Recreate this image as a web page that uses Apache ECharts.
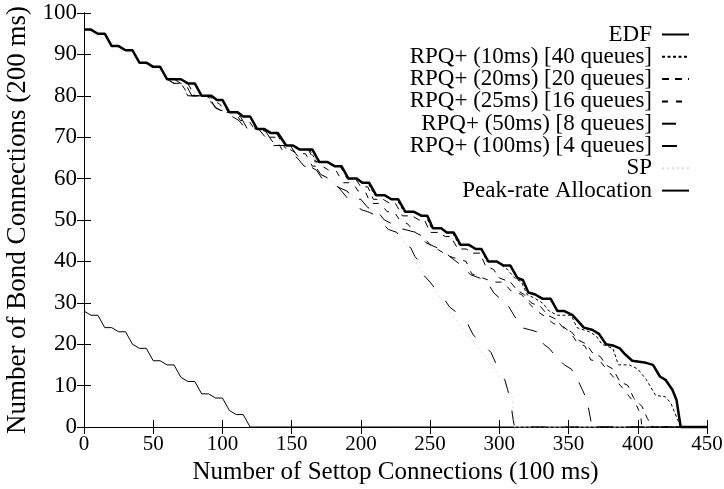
<!DOCTYPE html>
<html><head><meta charset="utf-8">
<script src="https://cdn.jsdelivr.net/npm/echarts@6/dist/echarts.min.js"></script>
<style>html,body{margin:0;padding:0;background:#fff}#c{width:724px;height:489px}</style>
</head><body><div id="c"></div>
<script>
const xTicks = [0,50,100,150,200,250,300,350,400,450];
const yTicks = [0,10,20,30,40,50,60,70,80,90,100];
const seriesNames = ['EDF','RPQ+ (10ms) [40 queues]','RPQ+ (20ms) [20 queues]','RPQ+ (25ms) [16 queues]','RPQ+ (50ms) [8 queues]','RPQ+ (100ms) [4 queues]','SP','Peak-rate Allocation'];

const edf = [[0,96],[5,96],[10,95],[15,95],[20,92],[25,92],[30,91],[35,91],[40,88],[45,88],[50,87],[55,87],[60,84],[70,84],[75,83],[80,83],[85,80],[92,80],[96,79],[100,79],[105,76],[111,76],[115,75],[120,75],[125,72],[130,72],[135,71],[140,71],[146,68],[151,68],[156,67],[165,67],[170,64],[176,64],[181,63],[186,63],[191,60],[197,60],[201,59],[206,59],[211,56],[217,56],[222,55],[227,55],[232,52],[238,52],[244,51],[248,51],[252,48],[258,48],[262,47],[267,47],[272,44],[278,44],[283,43],[287,43],[292,40],[298,40],[303,39],[308,39],[313,36],[317,35.5],[321,32.5],[326,32],[331,31],[337,31],[342,28],[347,28],[353,27],[357,25.5],[361,24],[367,23.5],[372,22.5],[377,20],[382,19.7],[387,19],[391,17.5],[396,16],[406,15.5],[411,15],[416,12.2],[420,11.4],[425,9],[428,6.5],[431,0],[450,0]];

const rpq10 = [[0,96],[5,96],[10,95],[15,95],[20,92],[25,92],[30,91],[35,91],[40,88],[45,88],[50,87],[55,87],[60,84],[70,84],[75,83],[80,83],[85,80],[92,80],[96,79],[100,79],[105,76],[111,76],[115,75],[120,75],[125,72],[130,72],[135,71],[140,71],[146,68],[151,68],[156,67],[163,67],[168,64],[176,64],[181,63],[186,63],[191,60],[197,60],[201,59],[205,59],[210,56],[217,56],[222,55],[226,55],[231,52],[238,52],[243,51],[247,51],[251,48],[258,48],[262,47],[266,47],[271,44],[278,44],[282,43],[287,43],[291,40],[298,40],[302,39],[306,38],[311,36],[316,35],[320,32],[326,31],[331,30],[336,28],[342,27],[352,27],[356,24],[365,23],[370,22],[374,20],[382,19],[386,15],[394,15],[400,14],[406,11.5],[413,7.6],[420,7.3],[424,5.7],[429,1.6],[431,0],[450,0]];

const rpq20 = [[0,96],[5,96],[10,95],[15,95],[20,92],[25,92],[30,91],[35,91],[40,88],[45,88],[50,87],[55,87],[60,84],[65,84],[70,83],[75,83],[80,80],[90,80],[94,79],[100,79],[104,76],[110,76],[114,75],[120,75],[124,72],[130,72],[134,71],[139,71],[144,68],[150,68],[155,67],[162,67],[167,64],[175,64],[180,63],[185,63],[190,60],[196,60],[200,58],[205,58],[209,55],[216,55],[221,54],[225,54],[230,51],[237,51],[242,50],[246,50],[250,47],[256,47],[261,46],[265,46],[270,43],[276,43],[281,42],[286,42],[290,39],[296,38],[300,36],[308,35],[313,33],[318,32],[323,30],[330,29],[335,27],[341,26],[346,24],[352,23],[357,21],[363,20],[367,18],[373,17],[377,15],[382,14],[387,11],[393,10],[397,7],[403,5],[407,2],[411,0],[450,0]];

const rpq25 = [[0,96],[5,96],[10,95],[15,95],[20,92],[25,92],[30,91],[35,91],[40,88],[45,88],[50,87],[55,87],[60,84],[65,83],[70,83],[76,80],[88,80],[93,79],[98,78],[103,76],[109,76],[113,74],[119,74],[123,72],[129,72],[133,70],[138,70],[143,67],[149,67],[154,66],[160,66],[165,63],[172,63],[177,62],[182,62],[187,59],[194,59],[198,57],[203,57],[207,54],[214,54],[219,52],[224,52],[228,50],[234,49],[239,47],[245,46],[250,44],[255,43],[260,42],[266,41],[271,40.5],[276,40],[280,37],[288,36],[296,35],[303,35],[308,33],[316,32],[321,30],[327,28],[333,26.7],[339,25],[345,24.5],[351,23],[356,20.5],[362,19.5],[366,16.2],[373,15.8],[379,13.4],[383,11.8],[389,9.4],[394,7.3],[399,5.3],[402,3],[403,0],[450,0]];

const rpq50 = [[0,96],[5,96],[10,95],[15,95],[20,92],[25,92],[30,91],[35,91],[40,88],[45,88],[50,87],[55,87],[60,84],[65,83],[70,83],[75,80],[86,80],[90,79],[96,77],[101,76],[107,75],[112,74],[117,72],[126,72],[131,70],[136,68],[144,68],[149,66],[154,65],[159,63],[167,63],[171,61],[177,60],[183,58],[190,57],[195,55],[200,55],[205,53],[212,52],[217,50],[223,49],[228,48],[234,47.5],[241,46.9],[247,44.5],[255,43.3],[260,42.5],[264,41.2],[272,39.2],[276,38],[279,36.8],[289,35.6],[293,34],[296,32.4],[303,30.3],[307,29],[310,27.3],[316,24],[322,23.5],[327,23],[332,20],[336,19],[340,17.4],[347,15],[352,14],[356,11.8],[360,9],[362,7.5],[364,5.3],[366,1.7],[367,0],[450,0]];

const rpq100 = [[0,96],[5,96],[10,95],[15,95],[20,92],[25,92],[30,91],[35,91],[40,88],[45,88],[50,87],[55,87],[60,84],[68,84],[73,83],[78,80],[90,80],[95,77],[103,76],[108,75],[113,75],[118,72],[130,72],[134,70],[138,68],[149,68],[153,66],[158,64],[163,63],[168,62],[172,60],[181,59],[186,57],[191,55],[195,55],[200,52.5],[205,52],[212,51],[216,49],[220,47.7],[226,47],[230,44.5],[236,43.3],[239,41.2],[242,40],[245,36.8],[250,35],[255,32.8],[260,31],[264,29],[268,28],[273,26],[277,25],[281,22.3],[285,21],[290,19.4],[294,18],[298,15],[301,13],[304,11.4],[306,9],[308,6.5],[310,1.7],[311,0],[450,0]];

const sp = [[0,96],[20,93],[40,89],[60,85],[80,81],[100,77],[120,73],[140,68],[160,64],[180,59],[198,55],[227,47],[241,39],[266,27],[290,17],[309,8],[311,0],[450,0]];

const peak = [[0,28],[5,27],[10,27],[15,24],[20,24],[25,23],[30,23],[35,20],[40,19],[45,19],[50,16],[55,16],[60,15],[65,15],[70,12],[75,11],[80,11],[85,8],[90,8],[95,7],[100,7],[105,4],[110,3],[115,3],[120,0],[450,0]];

const seriesData = [edf, rpq10, rpq20, rpq25, rpq50, rpq100, sp, peak];
const styles = [
  {width:2.5, type:'solid', color:'#000'},
  {width:1, type:[3,2.5], color:'#000'},
  {width:1, type:[7,6], color:'#000'},
  {width:1, type:[6,8], color:'#000'},
  {width:1, type:[14,13], color:'#000'},
  {width:1, type:[15,18], color:'#000'},
  {width:1, type:[2,3], color:'#dcdcdc'},
  {width:1, type:'solid', color:'#000'}
];

const FONT = 'Liberation Serif';
const chart = echarts.init(document.getElementById('c'), null, {renderer:'canvas'});
const axisCommon = {
  axisLine:{show:true, lineStyle:{color:'#000', width:1}},
  axisTick:{show:true, inside:true, length:7, lineStyle:{color:'#000'}},
  splitLine:{show:false}
};
chart.setOption({
  animation:false,
  backgroundColor:'#fff',
  textStyle:{fontFamily:FONT, color:'#000'},
  grid:{left:84, right:17, top:13, bottom:62, containLabel:false, outerBoundsMode:'none'},
  legend:{
    data:seriesNames, orient:'vertical', right:29, top:18, align:'right',
    itemWidth:27, itemHeight:14, itemGap:-0.7,
    itemStyle:{opacity:0},
    textStyle:{fontFamily:FONT, fontSize:23, color:'#000', lineHeight:20, padding:[0,5,0,0]}
  },
  xAxis:[
    Object.assign({type:'value', min:0, max:450, interval:50, position:'bottom',
      name:'Number of Settop Connections (100 ms)', nameLocation:'middle', nameGap:28,
      nameTextStyle:{fontFamily:FONT, fontSize:25, color:'#000'},
      axisLabel:{fontFamily:FONT, fontSize:21, color:'#000', margin:7,
        customValues:xTicks, formatter:v=>String(v)}}, axisCommon),
    Object.assign({type:'value', min:0, max:450, interval:50, position:'top', axisLabel:{show:false}}, axisCommon)
  ],
  yAxis:[
    Object.assign({type:'value', min:0, max:100, interval:10, position:'left',
      name:'Number of Bond Connections (200 ms)', nameLocation:'middle', nameGap:42,
      nameTextStyle:{fontFamily:FONT, fontSize:27, color:'#000'},
      axisLabel:{fontFamily:FONT, fontSize:23, color:'#000', margin:7,
        customValues:yTicks, formatter:v=>String(v)}}, axisCommon),
    Object.assign({type:'value', min:0, max:100, interval:10, position:'right', axisLabel:{show:false}}, axisCommon)
  ],
  series: seriesData.map((d,i)=>({
    name:seriesNames[i], type:'line', data:d, xAxisIndex:0, yAxisIndex:0,
    symbol:'none', showSymbol:false, clip:false, z: 10 - i,
    lineStyle:styles[i], itemStyle:{color:styles[i].color}
  }))
});
</script></body></html>
